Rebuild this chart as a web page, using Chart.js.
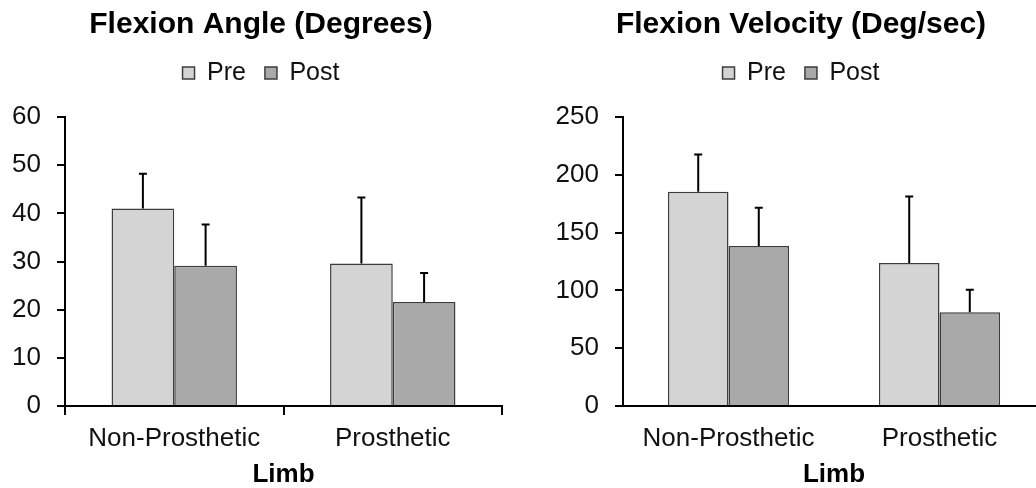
<!DOCTYPE html>
<html>
<head>
<meta charset="utf-8">
<script src="https://cdn.jsdelivr.net/npm/chart.js@4/dist/chart.umd.min.js"></script>
<style>
  html, body { margin: 0; padding: 0; background: #fff; overflow: hidden; width: 1036px; height: 488px; }
  .wrap { position: absolute; top: 0; }
</style>
</head>
<body>
<div class="wrap" style="left:0px;"><canvas id="c1" width="525" height="488"></canvas></div>
<div class="wrap" style="left:540px;"><canvas id="c2" width="525" height="488"></canvas></div>
<script>
// ---- Data ----
const categories = ['Non-Prosthetic', 'Prosthetic'];
const seriesNames = ['Pre', 'Post'];

const angleTitle = 'Flexion Angle (Degrees)';
const anglePre = [41.0, 29.6];
const anglePreErr = [7.2, 13.7];
const anglePost = [29.1, 21.6];
const anglePostErr = [8.6, 6.0];
const angleTicks = [0, 10, 20, 30, 40, 50, 60];

const velTitle = 'Flexion Velocity (Deg/sec)';
const velPre = [185.4, 123.7];
const velPreErr = [32.2, 57.6];
const velPost = [138.4, 81.0];
const velPostErr = [33.1, 19.6];
const velTicks = [0, 50, 100, 150, 200, 250];

const xTitle = 'Limb';

// ---- Styles ----
const preFill = '#d4d4d4';
const postFill = '#a9a9a9';
const barEdge = '#3c3c3c';
const txt = '#111111';
const FONT = "'Liberation Sans', Arial, sans-serif";

const errorBarPlugin = {
  id: 'errorBars',
  afterDatasetsDraw(chart) {
    const ctx = chart.ctx;
    const yScale = chart.scales.y;
    ctx.save();
    ctx.strokeStyle = '#000';
    ctx.lineWidth = 2;
    chart.data.datasets.forEach((ds, i) => {
      const meta = chart.getDatasetMeta(i);
      meta.data.forEach((el, j) => {
        const v = ds.data[j];
        const e = ds.errors[j];
        const yTop = yScale.getPixelForValue(v + e);
        const yBar = yScale.getPixelForValue(v);
        ctx.beginPath();
        ctx.moveTo(el.x, yBar);
        ctx.lineTo(el.x, yTop);
        ctx.moveTo(el.x - 4, yTop);
        ctx.lineTo(el.x + 4, yTop);
        ctx.stroke();
      });
    });
    ctx.restore();
  }
};

function makeChart(id, title, pre, preErr, post, postErr, ticks, padLeft, yWidth, padRight, showXTicks) {
  const maxV = ticks[ticks.length - 1];
  const step = ticks[1] - ticks[0];
  return new Chart(document.getElementById(id), {
    type: 'bar',
    data: {
      labels: categories,
      datasets: [
        { label: seriesNames[0], data: pre, errors: preErr, backgroundColor: preFill, borderColor: barEdge, borderWidth: 1.5 },
        { label: seriesNames[1], data: post, errors: postErr, backgroundColor: postFill, borderColor: barEdge, borderWidth: 1.5 }
      ]
    },
    options: {
      responsive: false,
      animation: false,
      devicePixelRatio: 1,
      layout: { padding: { left: padLeft, right: padRight, top: 0, bottom: 0 } },
      datasets: { bar: { categoryPercentage: 0.574, barPercentage: 1.0 } },
      plugins: {
        tooltip: { enabled: false },
        title: {
          display: true, text: title, color: '#000',
          font: { family: FONT, size: 30, weight: 'bold', lineHeight: 1.1 },
          padding: { top: 8.5, bottom: 0 }
        },
        legend: {
          display: true, position: 'top',
          labels: {
            color: txt, boxWidth: 12, boxHeight: 12, padding: 19,
            font: { family: FONT, size: 25 }
          }
        },
        subtitle: {
          display: true, text: ' ', weight: 500, position: 'top',
          font: { family: FONT, size: 10, lineHeight: 1 },
          padding: { top: 11.5, bottom: 0 }
        }
      },
      scales: {
        x: {
          type: 'category',
          offset: true,
          grid: { offset: true, drawOnChartArea: false, drawTicks: true, tickLength: 9,
                  tickColor: showXTicks ? '#000' : 'rgba(0,0,0,0)', tickWidth: 2, lineWidth: 2 },
          border: { display: true, color: '#000', width: 2 },
          ticks: { color: txt, padding: 8, font: { family: FONT, size: 26 }, maxRotation: 0 },
          title: { display: true, text: xTitle, color: '#000',
                   font: { family: FONT, size: 26, weight: 'bold', lineHeight: 1 },
                   padding: { top: 0, bottom: 0 } },
          afterFit(scale) { scale.height = 82; }
        },
        y: {
          min: 0, max: maxV,
          grid: { drawOnChartArea: false, drawTicks: true, tickLength: 8, tickColor: '#000', tickWidth: 2, lineWidth: 2 },
          border: { display: true, color: '#000', width: 2 },
          ticks: { stepSize: step, color: txt, padding: 16, font: { family: FONT, size: 26 } },
          afterFit(scale) {
            scale.width = yWidth;
            // let the tick labels extend into the left padding without being clipped
            scale._computeLabelArea = function () { return undefined; };
          }
        }
      }
    },
    plugins: [errorBarPlugin]
  });
}

makeChart('c1', angleTitle, anglePre, anglePreErr, anglePost, anglePostErr, angleTicks, 20, 45, 23, true);
makeChart('c2', velTitle, velPre, velPreErr, velPost, velPostErr, velTicks, 17, 66, 20, false);
</script>
</body>
</html>
